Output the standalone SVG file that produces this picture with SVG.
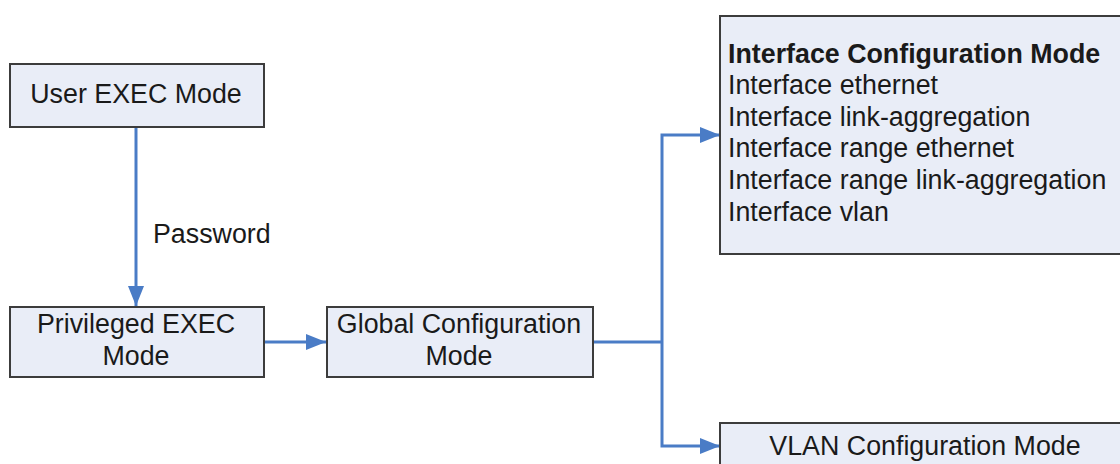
<svg xmlns="http://www.w3.org/2000/svg" width="1120" height="464" viewBox="0 0 1120 464">
<style>
.box{fill:#E9EDF7;stroke:#3C3C3C;stroke-width:2}
.t{font-family:"Liberation Sans",Arial,sans-serif;font-size:26.8px;fill:#1A1A1A}
.c{text-anchor:middle}
.b{font-weight:bold}
.ln{fill:none;stroke:#4A7CC6;stroke-width:3}
</style>
<defs>
<marker id="arr" viewBox="0 0 20 16" refX="20" refY="8" markerWidth="20" markerHeight="16" markerUnits="userSpaceOnUse" orient="auto">
<path d="M0,0 L20,8 L0,16 z" fill="#4A7CC6"/>
</marker>
</defs>
<rect width="1120" height="464" fill="#FFFFFF"/>
<g id="connectors">
<path class="ln" d="M136,128 L136,306" marker-end="url(#arr)"/>
<path class="ln" d="M264,342 L326,342" marker-end="url(#arr)"/>
<path class="ln" d="M593,342 L662,342"/>
<path class="ln" d="M662,342 L662,135 L720,135" marker-end="url(#arr)"/>
<path class="ln" d="M662,342 L662,446 L720,446" marker-end="url(#arr)"/>
<text class="t" x="153" y="243">Password</text>
</g>
<g id="user-exec">
<rect class="box" x="10" y="64" width="254" height="63"/>
<text class="t c" x="136" y="103">User EXEC Mode</text>
</g>
<g id="privileged-exec">
<rect class="box" x="10" y="307" width="254" height="70"/>
<text class="t c" x="136" y="333">Privileged EXEC</text>
<text class="t c" x="136" y="365">Mode</text>
</g>
<g id="global-config">
<rect class="box" x="327" y="307" width="266" height="70"/>
<text class="t c" x="459" y="333">Global Configuration</text>
<text class="t c" x="459" y="365">Mode</text>
</g>
<g id="interface-config">
<rect class="box" x="720" y="16" width="410" height="238"/>
<text class="t b" x="728" y="63">Interface Configuration Mode</text>
<text class="t" x="728" y="94">Interface ethernet</text>
<text class="t" x="728" y="126">Interface link-aggregation</text>
<text class="t" x="728" y="157">Interface range ethernet</text>
<text class="t" x="728" y="189">Interface range link-aggregation</text>
<text class="t" x="728" y="221">Interface vlan</text>
</g>
<g id="vlan-config">
<rect class="box" x="720" y="423" width="410" height="60"/>
<text class="t c" x="925" y="455">VLAN Configuration Mode</text>
</g>
</svg>
